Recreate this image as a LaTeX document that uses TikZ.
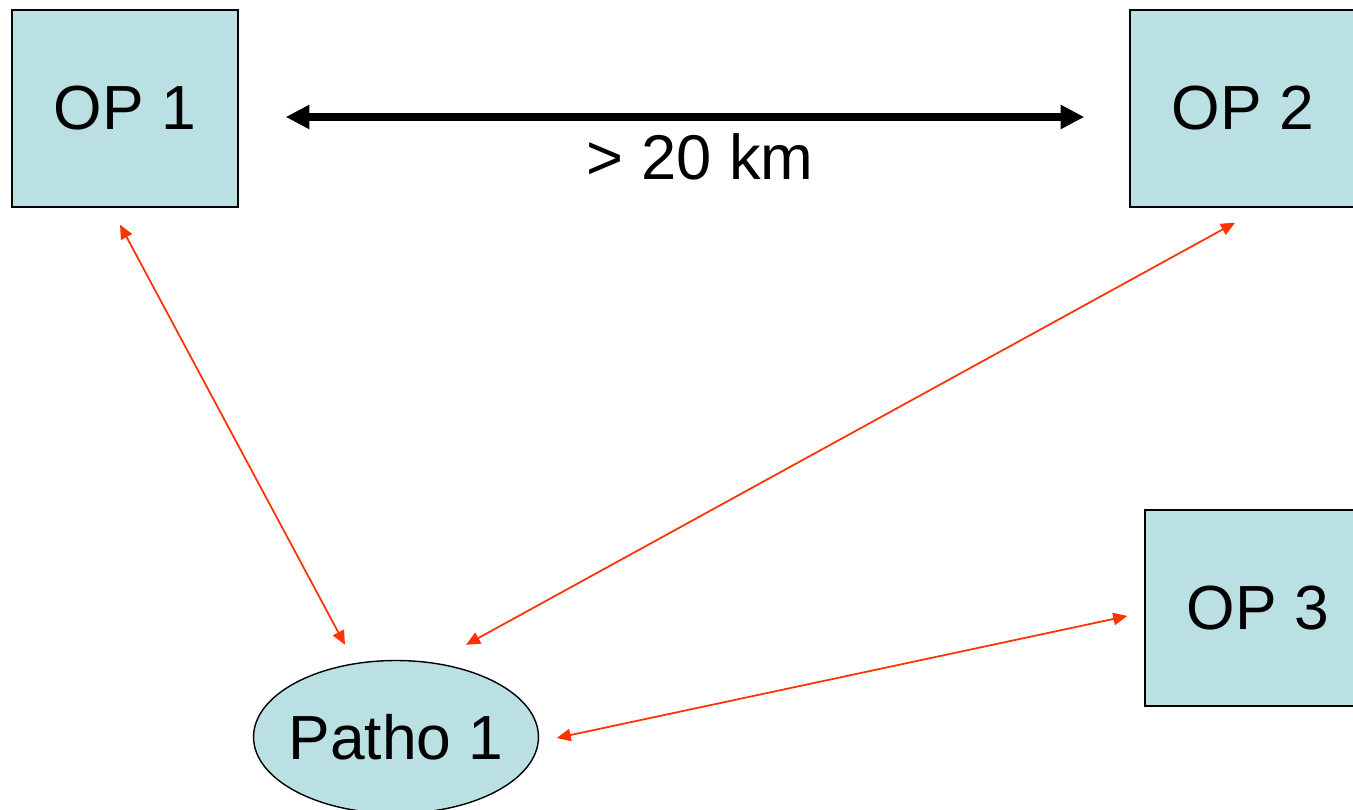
\documentclass[tikz,border=0pt]{standalone}
\usepackage{fontspec}
\setmainfont{Liberation Sans}
\usetikzlibrary{arrows.meta,shapes.geometric}
\definecolor{opfill}{RGB}{187,224,227}
\definecolor{linkred}{RGB}{255,51,0}

\begin{document}
\begin{tikzpicture}[
    x=0.02cm, y=-0.02cm,
    op/.style={draw, line width=0.8pt, fill=opfill, minimum width=4.52cm, minimum height=3.94cm, inner sep=0pt, font=\fontsize{35.5}{40}\selectfont},
    patho/.style={ellipse, draw, line width=0.8pt, fill=opfill, minimum width=5.7cm, minimum height=3.06cm, inner xsep=-6pt, inner ysep=0pt, font=\fontsize{35.5}{40}\selectfont},
    note/.style={font=\fontsize{36}{40}\selectfont},
    link/.style={{Triangle[length=8pt,width=7pt]}-{Triangle[length=8pt,width=7pt]}, line width=1pt, linkred},
    dist/.style={{Triangle[length=13.5pt,width=13pt]}-{Triangle[length=13.5pt,width=13pt]}, line width=4pt}
  ]
    \useasboundingbox (0,0) rectangle (1353,810);
    \clip (0,0) rectangle (1353,810);

    \node[op] (op1) at (125,108.5) {OP 1};
    \node[op] (op2) at (1243,108.5) {OP 2};
    \node[op, minimum height=3.92cm] (op3) at (1258,608) {OP 3};
    \node[patho] (patho1) at (396,737) {Patho 1};

    % distance between the two OPs
    \draw[dist] ([shift={(47,8.5)}]op1.east) -- ([shift={(-45,8.5)}]op2.west);
    \node[note] (km) at (700,157) {> 20 km};

    \draw[link] ([shift={(-5,17)}]op1.south) -- ([shift={(-51,-15)}]patho1.north);
    \draw[link] ([shift={(-8,15)}]op2.south) -- ([shift={(70,-15)}]patho1.north);
    \draw[link] ([shift={(-17,8)}]op3.west) -- ([shift={(17.5,1)}]patho1.east);
  \end{tikzpicture}
\end{document}
